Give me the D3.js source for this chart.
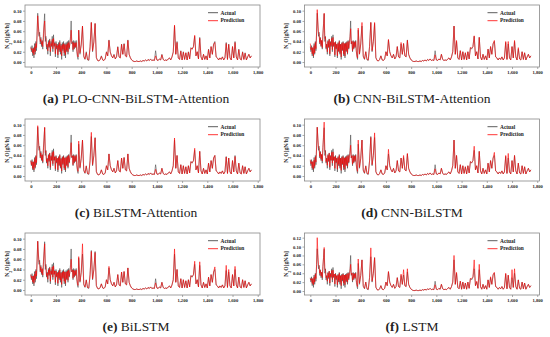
<!DOCTYPE html>
<html>
<head>
<meta charset="utf-8">
<script src="https://cdn.jsdelivr.net/npm/d3@7"></script>
<style>
body { margin: 0; background: #fff; }
text { font-family: "Liberation Serif", "DejaVu Serif", serif; }
</style>
</head>
<body>
<svg id="chart" width="550" height="337"></svg>
<script>
// values are in 1e-3 gN/h; samples every 5 steps up to 395, then every 10 steps to 1750
var sampleX = d3.range(0, 400, 5).concat(d3.range(400, 1751, 10));
var xTicks = [0, 200, 400, 600, 800, 1000, 1200, 1400, 1600, 1800];
var yTicks = [0, 0.02, 0.04, 0.06, 0.08, 0.10];
var yTicksLSTM = [0, 0.02, 0.04, 0.06, 0.08, 0.10, 0.12];

var actual = [
	30,20,32,12,28,8,36,15,40,22, 60,95,70,50,58,35,48,30,42,25,
	55,75,94,40,50,25,35,15,42,28, 45,12,40,30,50,20,53,30,38,10,
	40,25,35,8,38,20,42,15,35,5, 38,22,40,12,36,8,38,20,40,15,
	42,25,38,50,80,35,40,20,42,25, 40,28,42,20,10,5,62,40,15,25,
	35,70,10,5,20,4,3,30,77,20, 40,75,8,3,2,5,12,4,3,6,
	20,12,43,20,12,8,15,6,10,30, 10,8,35,15,36,12,10,43,15,8,
	4,2,1,1,2,1,1,2,1,3, 2,4,2,5,3,6,3,4,3,22,
	4,3,6,4,15,5,3,4,3,6, 8,4,10,20,70,15,40,8,5,22,
	4,20,5,18,4,20,6,28,25,30, 50,12,20,6,48,10,4,15,5,12,
	4,25,8,30,15,35,40,10,8,4, 8,5,10,4,8,38,5,35,8,4,
	30,8,40,10,4,25,6,4,20,5, 18,4,10,15,8,12
];

var predPLO = [
	28,24,26,18,26,14,30,20,36,28, 52,90,72,54,52,40,44,34,40,30,
	48,68,80,48,46,30,32,22,38,30, 42,20,36,32,44,26,46,32,36,16,
	36,28,32,14,34,24,38,20,32,12, 34,25,36,18,34,14,34,23,36,20,
	38,28,35,45,62,38,38,24,38,28, 37,30,38,24,14,10,62,42,18,26,
	33,70,12,6,18,5,4,28,77,22, 38,75,9,3,2,5,11,4,3,6,
	19,12,42,19,12,8,14,6,10,29, 10,8,34,15,35,12,10,42,15,8,
	4,2,1,1,2,1,1,2,1,3, 2,4,2,5,3,5,3,4,3,12,
	4,3,6,4,14,5,3,4,3,6, 8,4,10,19,72,15,38,8,5,21,
	4,19,5,18,4,19,6,27,25,30, 52,12,20,6,46,10,4,15,5,12,
	4,24,8,30,15,34,38,10,8,4, 8,5,10,4,8,36,5,34,8,4,
	30,8,38,10,4,24,6,4,19,5, 17,4,10,15,8,12
];

var predCBA = [
	36,24,28,16,28,12,32,18,38,26, 58,102,78,56,54,38,46,32,42,28,
	50,72,95,46,48,28,34,20,40,30, 44,16,38,32,46,24,48,32,38,14,
	38,27,34,12,36,22,40,18,34,10, 36,24,38,16,36,12,36,22,38,18,
	40,27,36,46,65,36,40,22,40,27, 38,30,40,22,12,8,66,42,16,25,
	35,77,12,6,20,5,4,30,77,22, 40,77,9,3,2,5,12,4,3,6,
	20,12,44,20,12,8,15,6,10,30, 10,8,38,15,36,12,10,42,15,8,
	4,2,1,1,2,1,1,2,1,3, 2,4,2,5,3,6,3,4,3,14,
	4,3,6,4,15,5,3,4,3,6, 8,4,10,20,70,15,42,8,5,22,
	4,20,5,18,4,20,6,28,27,30, 51,12,20,6,48,10,4,15,5,12,
	4,25,8,30,15,36,42,10,8,4, 8,5,10,4,8,40,5,40,8,4,
	30,8,42,10,4,28,6,4,20,5, 18,4,10,15,8,12
];

var predBA = [
	30,22,28,15,27,12,32,18,38,26, 56,98,74,54,54,38,45,32,41,28,
	50,70,95,46,48,28,33,20,40,30, 44,17,38,31,46,24,48,31,37,14,
	38,27,34,12,36,22,40,18,33,10, 36,24,38,16,35,12,36,22,38,18,
	40,27,36,45,65,37,39,22,40,27, 38,30,40,22,13,9,68,42,17,25,
	34,70,12,6,19,5,4,29,85,22, 39,74,9,3,2,5,12,4,3,6,
	20,12,43,20,12,8,15,6,10,30, 10,8,35,15,36,12,10,43,15,8,
	4,2,1,1,2,1,1,2,1,3, 2,4,2,5,3,6,3,4,3,13,
	4,3,6,4,15,5,3,4,3,6, 8,4,10,20,74,15,40,8,5,22,
	4,20,5,18,4,20,6,28,26,30, 54,12,20,6,48,10,4,15,5,12,
	4,25,8,30,15,35,40,10,8,4, 8,5,10,4,8,37,5,35,8,4,
	30,8,38,10,4,25,6,4,20,5, 18,4,10,15,8,12
];

var predCB = [
	32,24,28,16,28,13,31,19,37,27, 55,95,74,55,54,38,46,33,42,29,
	55,80,105,48,48,28,34,21,40,30, 44,17,38,31,46,25,47,31,37,15,
	38,27,34,13,36,23,40,19,34,11, 36,24,38,17,35,13,36,22,38,19,
	40,27,36,44,60,36,39,23,40,27, 38,30,40,23,13,9,70,42,17,25,
	34,70,12,6,19,5,4,29,75,22, 40,84,9,3,2,5,12,4,3,6,
	20,12,52,20,12,8,15,6,10,30, 10,8,35,15,40,12,10,44,15,8,
	4,2,1,1,2,1,1,2,1,3, 2,4,2,5,3,6,3,4,3,14,
	4,3,6,4,15,5,3,4,3,6, 8,4,10,20,70,15,40,8,5,22,
	4,20,5,18,4,20,6,28,26,30, 58,12,20,6,48,10,4,15,5,12,
	4,25,8,30,15,35,46,10,8,4, 8,5,10,4,8,40,5,44,8,4,
	30,8,40,10,4,25,6,4,20,5, 18,4,10,15,8,12
];

var predBL = [
	30,23,27,16,27,13,31,19,37,27, 55,95,72,54,53,38,45,33,41,29,
	50,70,90,47,47,28,33,21,39,30, 43,17,37,31,45,25,47,31,37,15,
	37,27,33,13,35,23,39,19,33,11, 35,24,37,17,35,13,35,22,37,19,
	39,27,35,44,60,36,38,23,39,27, 37,30,39,23,13,9,65,41,17,25,
	34,90,12,6,19,5,4,29,75,22, 39,73,9,3,2,5,12,4,3,6,
	20,12,46,20,12,8,15,6,10,30, 10,8,35,15,36,12,10,43,15,8,
	4,2,1,1,2,1,1,2,1,3, 2,4,2,5,3,6,3,4,3,14,
	4,3,6,4,15,5,3,4,3,6, 8,4,10,20,80,15,40,8,5,22,
	4,20,5,18,4,20,6,28,26,30, 56,12,20,6,55,10,4,15,5,12,
	4,25,8,30,15,35,45,10,8,4, 8,5,10,4,8,48,5,40,8,4,
	30,8,46,10,4,25,6,4,20,5, 18,4,10,15,8,12
];

var predLSTM = [
	28,24,28,17,28,14,32,20,38,28, 60,120,85,58,55,40,46,34,42,30,
	55,75,98,48,48,30,34,22,40,31, 44,18,38,32,46,26,47,32,38,16,
	38,28,34,14,36,24,40,20,34,12, 36,25,38,18,36,14,36,23,38,20,
	40,28,36,44,60,37,40,24,40,28, 38,30,40,24,14,10,72,44,18,26,
	35,70,12,6,20,5,4,30,97,22, 40,75,9,3,2,5,12,4,3,6,
	20,12,44,20,12,8,15,6,10,30, 10,8,38,15,48,12,10,50,15,8,
	4,2,1,1,2,1,1,2,1,3, 2,4,2,5,3,6,3,4,3,14,
	4,3,6,4,15,5,3,4,3,6, 8,4,10,20,80,15,42,8,5,22,
	4,20,5,18,4,20,6,28,28,32, 70,12,22,6,60,10,4,15,5,12,
	4,25,8,32,15,38,42,10,8,4, 8,5,10,4,8,40,5,36,8,4,
	48,8,50,10,4,25,6,4,20,5, 18,4,10,15,8,12
];

var letters = ['(a)', '(b)', '(c)', '(d)', '(e)', '(f)'];
var models = ['PLO-CNN-BiLSTM-Attention', 'CNN-BiLSTM-Attention', 'BiLSTM-Attention', 'CNN-BiLSTM', 'BiLSTM', 'LSTM'];
var preds = [predPLO, predCBA, predBA, predCB, predBL, predLSTM];

var svg = d3.select('#chart');
var W = 235, H = 62;
var colX = [25, 304.5];
var rowY = [5, 119, 233];
var captionX = [136, 412];

preds.forEach(function(pred, i) {
	var col = i % 2, row = Math.floor(i / 2);
	var isLSTM = (i == 5);
	var g = svg.append('g').attr('transform', 'translate(' + colX[col] + ',' + rowY[row] + ')');

	var x = d3.scaleLinear().domain([-46, 1818]).range([0, W]);
	var y = d3.scaleLinear().domain(isLSTM ? [-0.009, 0.1305] : [-0.0097, 0.111]).range([H, 0]);

	var xAxis = g.append('g').attr('transform', 'translate(0,' + H + ')')
		.call(d3.axisBottom(x).tickValues(xTicks).tickSize(2).tickSizeOuter(0).tickPadding(1.5));
	var yAxis = g.append('g')
		.call(d3.axisLeft(y).tickValues(isLSTM ? yTicksLSTM : yTicks).tickFormat(d3.format('.2f')).tickSize(2).tickSizeOuter(0).tickPadding(1.5));
	[xAxis, yAxis].forEach(function(a) {
		a.select('.domain').remove();
		a.selectAll('line').attr('stroke', '#555').attr('stroke-width', 0.5);
		a.selectAll('text').style('font-size', '4.6px').style('font-weight', 'bold').attr('fill', '#222');
	});

	var line = d3.line()
		.x(function(d, j) { return x(sampleX[j]); })
		.y(function(d) { return y(d / 1000); });

	g.append('path').datum(actual)
		.attr('d', line).attr('fill', 'none')
		.attr('stroke', '#333').attr('stroke-width', 0.5);
	g.append('path').datum(pred)
		.attr('d', line).attr('fill', 'none')
		.attr('stroke', '#ff0000').attr('stroke-width', 0.6);

	g.append('rect').attr('width', W).attr('height', H)
		.attr('fill', 'none').attr('stroke', '#888').attr('stroke-width', 0.8);

	// legend
	var lg = g.append('g').attr('transform', 'translate(' + (W - 52) + ',7.7)');
	[['Actual', '#333'], ['Prediction', '#ff0000']].forEach(function(l, k) {
		lg.append('line').attr('x1', 0).attr('x2', 10).attr('y1', k * 8).attr('y2', k * 8)
			.attr('stroke', l[1]).attr('stroke-width', 0.8);
		lg.append('text').attr('x', 12.5).attr('y', k * 8 + 1.8)
			.style('font-size', '5.4px').style('font-weight', 'bold').attr('fill', '#222')
			.text(l[0]);
	});

	// y label
	var yl = g.append('text')
		.attr('transform', 'translate(-16.5,' + (H / 2) + ') rotate(-90)')
		.attr('text-anchor', 'middle')
		.style('font-size', '5.6px').style('font-weight', 'bold').attr('fill', '#222');
	yl.append('tspan').text('N');
	yl.append('tspan').attr('baseline-shift', 'sub').style('font-size', '4px').text('2');
	yl.append('tspan').text('O[gN/h]');

	// caption
	var cap = svg.append('text')
		.attr('x', captionX[col]).attr('y', 103 + row * 114)
		.attr('text-anchor', 'middle')
		.style('font-size', '13.5px').attr('fill', '#222');
	cap.append('tspan').style('font-weight', 'bold').text(letters[i]);
	cap.append('tspan').style('font-weight', 'normal').text(' ' + models[i]);
});
</script>
</body>
</html>
